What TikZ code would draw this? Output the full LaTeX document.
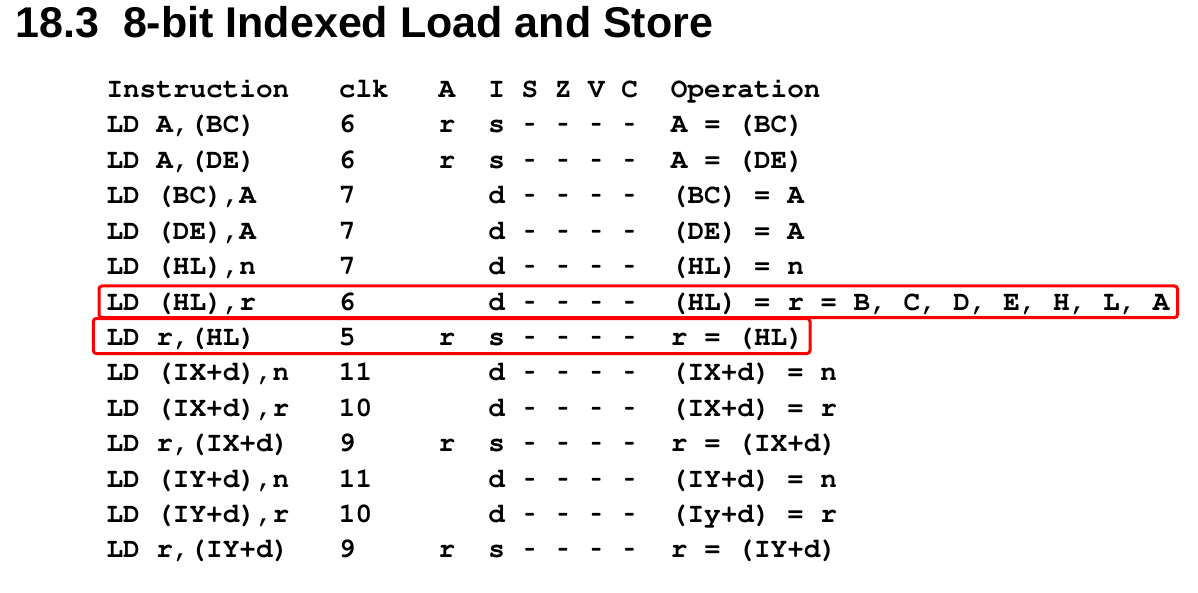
\documentclass[tikz,border=0pt]{standalone}
\usepackage[T1]{fontenc}
\usepackage{fontspec}
\newfontfamily\titlefam{Liberation Sans}[BoldFont={Liberation Sans Bold}]
\newcommand\codefont{\fontencoding{T1}\fontfamily{pcr}\fontseries{b}\selectfont}
\newcommand\hy{\makebox[0.6em]{\scalebox{0.62}[1]{-}}}
\newcommand\flagsd{d \hy\ \hy\ \hy\ \hy}
\newcommand\flagss{s \hy\ \hy\ \hy\ \hy}
\tikzset{
  cell/.style={anchor=base west, inner sep=0pt, outer sep=0pt,
    font=\fontsize{27.7}{30}\codefont, text=black},
  titlestyle/.style={anchor=base west, inner sep=0pt, outer sep=0pt,
    font=\titlefam\bfseries\fontsize{43}{47}\selectfont, text=black},
  redbox/.style={draw=red, line width=3pt, rounded corners=3pt}
}
\newcommand\tabrow[6]{%
  \node[cell] (ins#1) at (106.5, {97.6+#1*35.4}) {#2};
  \node[cell] (clk#1) at ({106.5+14*16.6}, {97.6+#1*35.4}) {#3};
  \node[cell] (acc#1) at ({106.5+20*16.6}, {97.6+#1*35.4}) {#4};
  \node[cell] (flg#1) at ({106.5+23*16.6}, {97.6+#1*35.4}) {#5};
  \node[cell] (op#1) at ({106.5+34*16.6}, {97.6+#1*35.4}) {#6};
}
\begin{document}
\begin{tikzpicture}[x=1pt, y=-1pt]
\fill[white] (0,0) rectangle (1198,593);
\useasboundingbox (0,0) rectangle (1198,593);
\node[titlestyle] (title) at (15.5,38) {18.3\ \ 8-bit Indexed Load and Store};
\tabrow{0}{Instruction}{clk}{A}{I S Z V C}{Operation}
\tabrow{1}{LD A,(BC)}{6}{r}{\flagss}{A = (BC)}
\tabrow{2}{LD A,(DE)}{6}{r}{\flagss}{A = (DE)}
\tabrow{3}{LD (BC),A}{7}{}{\flagsd}{(BC) = A}
\tabrow{4}{LD (DE),A}{7}{}{\flagsd}{(DE) = A}
\tabrow{5}{LD (HL),n}{7}{}{\flagsd}{(HL) = n}
\tabrow{6}{LD (HL),r}{6}{}{\flagsd}{(HL) = r = B, C, D, E, H, L, A}
\tabrow{7}{LD r,(HL)}{5}{r}{\flagss}{r = (HL)}
\tabrow{8}{LD (IX+d),n}{11}{}{\flagsd}{(IX+d) = n}
\tabrow{9}{LD (IX+d),r}{10}{}{\flagsd}{(IX+d) = r}
\tabrow{10}{LD r,(IX+d)}{9}{r}{\flagss}{r = (IX+d)}
\tabrow{11}{LD (IY+d),n}{11}{}{\flagsd}{(IY+d) = n}
\tabrow{12}{LD (IY+d),r}{10}{}{\flagsd}{(Iy+d) = r}
\tabrow{13}{LD r,(IY+d)}{9}{r}{\flagss}{r = (IY+d)}
\draw[redbox] (99,286) rectangle (1177.5,317.5);
\draw[redbox] (93.3,318.5) rectangle (810,353.5);
\end{tikzpicture}
\end{document}
